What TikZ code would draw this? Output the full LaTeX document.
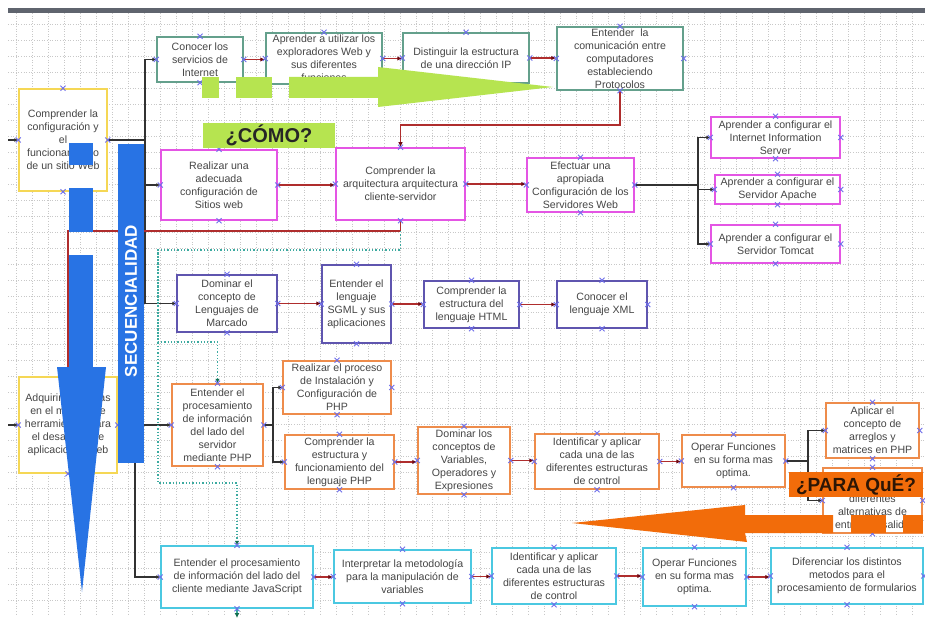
\documentclass[tikz,border=0pt]{standalone}
\usepackage{fontspec}
\setmainfont{Liberation Sans}
\usetikzlibrary{arrows.meta}
\definecolor{txt}{RGB}{70,70,70}
\definecolor{cTeal}{RGB}{100,160,140}
\definecolor{cYel}{RGB}{245,215,85}
\definecolor{cMag}{RGB}{228,85,228}
\definecolor{cInd}{RGB}{95,85,175}
\definecolor{cOrg}{RGB}{238,140,75}
\definecolor{cCy}{RGB}{75,200,225}
\definecolor{cMark}{RGB}{110,110,235}
\definecolor{cRed}{RGB}{175,45,45}
\definecolor{cRedD}{RGB}{110,10,20}
\definecolor{cDark}{RGB}{50,50,50}
\definecolor{cTealL}{RGB}{60,170,160}
\definecolor{cTealD}{RGB}{20,110,80}
\definecolor{cGreen}{RGB}{182,228,80}
\definecolor{cBlue}{RGB}{40,115,228}
\definecolor{cOrange}{RGB}{242,108,10}
\definecolor{cParaTxt}{RGB}{45,22,5}
\definecolor{gridc}{RGB}{200,200,200}
\definecolor{topbar}{RGB}{95,100,110}
\tikzset{
  bx/.style={draw, line width=1.5pt, fill=white, align=center, inner sep=0pt, text=txt, font=\fontsize{10.6}{13}\selectfont},
  tl/.style={bx, draw=cTeal}, yl/.style={bx, draw=cYel}, mg/.style={bx, draw=cMag},
  ind/.style={bx, draw=cInd}, org/.style={bx, draw=cOrg}, cy/.style={bx, draw=cCy},
  wh/.style 2 args={minimum width=#1pt, minimum height=#2pt},
  xmk/.style={draw=cMark, line width=0.9pt},
  rd/.style={draw=cRed, line width=1.4pt, -{Latex[length=5pt,width=4.5pt,color=cRedD]}},
  dk/.style={draw=cDark, line width=1.5pt},
  dka/.style={dk, -{Latex[length=4pt,width=4pt]}},
  tdot/.style={draw=cTealL, line width=1.3pt, dotted, -{Latex[length=4.5pt,width=4.5pt,color=cTealD]}},
  gridline/.style={draw=gridc, line width=0.6pt, dotted},
  plaintxt/.style={align=center, inner sep=0pt, text=txt, font=\fontsize{10.6}{13}\selectfont},
}
\begin{document}
\begin{tikzpicture}[x=1pt,y=-1pt]
\useasboundingbox (0,0) rectangle (925,620);
\fill[white] (0,0) rectangle (925,620);
\foreach \x in {16,32,...,912} \draw[gridline] (\x,13) -- (\x,614);
\foreach \y in {24,40,...,608} \draw[gridline] (8,\y) -- (925,\y);
\fill[topbar] (8,8) rectangle (925,13);

% ---------- boxes ----------
\node[tl, wh={86}{45}] (conocer) at (200,59.5) {Conocer los\\servicios de\\Internet};
\node[tl, wh={116}{51}] (aprender) at (324,58.5) {Aprender a utilizar los\\exploradores Web y\\sus diferentes\\funciones};
\node[tl, wh={126}{50}] (disting) at (466,58) {Distinguir la estructura\\de una dirección IP};
\node[tl, wh={126}{63}] (prot) at (620,58.5) {Entender\ \ la\\comunicación entre\\computadores\\estableciendo\\Protocolos};
\node[yl, wh={88}{102}] (comp) at (63,140) {Comprender la\\configuración y\\el\\funcionamiento\\de un sitio Web};
\node[mg, wh={116}{70}] (realiz) at (219,185) {Realizar una\\adecuada\\configuración de\\Sitios web};
\node[mg, wh={129}{72}] (arq) at (400.5,184) {Comprender la\\arquitectura arquitectura\\cliente-servidor};
\node[mg, wh={107}{54}] (efect) at (580.5,185) {Efectuar una\\apropiada\\Configuración de los\\Servidores Web};
\node[mg, wh={129}{41}] (iis) at (775.5,137.5) {Aprender a configurar el\\Internet Information\\Server};
\node[mg, wh={125}{29}] (apache) at (777.5,189.5) {Aprender a configurar el\\Servidor Apache};
\node[mg, wh={129}{38}] (tomcat) at (775.5,244) {Aprender a configurar el\\Servidor Tomcat};
\node[ind, wh={100}{57}] (dominar) at (227,303.5) {Dominar el\\concepto de\\Lenguajes de\\Marcado};
\node[ind, wh={69}{78}] (sgml) at (356.5,304) {Entender el\\lenguaje\\SGML y sus\\aplicaciones};
\node[ind, wh={95}{47}] (html) at (471.5,304.5) {Comprender la\\estructura del\\lenguaje HTML};
\node[ind, wh={90}{47}] (xml) at (602,304.5) {Conocer el\\lenguaje XML};
\node[yl, wh={98}{96}] (adq) at (68,425) {Adquirir destrezas\\en el manejo de\\herramientas para\\el desarrollo de\\aplicaciones web};
\node[org, wh={91}{82}] (php) at (217.5,425) {Entender el\\procesamiento\\de información\\del lado del\\servidor\\mediante PHP};
\node[org, wh={108}{53}] (inst) at (337,387.5) {Realizar el proceso\\de Instalación y\\Configuración de\\PHP};
\node[org, wh={109}{54}] (estr) at (339.5,462) {Comprender la\\estructura y\\funcionamiento del\\lenguaje PHP};
\node[org, wh={92}{67}] (varb) at (464,460.5) {Dominar los\\conceptos de\\Variables,\\Operadores y\\Expresiones};
\node[org, wh={124}{55}] (ident) at (597,461.5) {Identificar y aplicar\\cada una de las\\diferentes estructuras\\de control};
\node[org, wh={103}{52}] (operar) at (733.5,461) {Operar Funciones\\en su forma mas\\optima.};
\node[org, wh={93}{55}] (arreg) at (872.5,430.5) {Aplicar el\\concepto de\\arreglos y\\matrices en PHP};
\node[org, wh={99}{65}] (altern) at (872.5,500.5) {};
\node[plaintxt] (alternT) at (872.5,513) {diferentes\\alternativas de\\entrada y salida};
\node[cy, wh={152}{62}] (js) at (237,577) {Entender el procesamiento\\de información del lado del\\cliente mediante JavaScript};
\node[cy, wh={137}{53}] (interp) at (402.5,576.5) {Interpretar la metodología\\para la manipulación de\\variables};
\node[cy, wh={124}{56}] (identb) at (554,576) {Identificar y aplicar\\cada una de las\\diferentes estructuras\\de control};
\node[cy, wh={103}{58}] (operarb) at (694.5,577) {Operar Funciones\\en su forma mas\\optima.};
\node[cy, wh={152}{56}] (difer) at (847,576) {Diferenciar los distintos\\metodos para el\\procesamiento de formularios};

% ---------- connectors ----------
\coordinate (inA) at (8,140);
\coordinate (inB) at (8,425);
\coordinate (j1) at (145,140);
\coordinate (j2) at (135,425);
\coordinate (j3) at (273,425);
\coordinate (j4) at (698,185);
\coordinate (j5) at (808,461);
\coordinate (t1) at (158,250);
\coordinate (t2) at (158,342);
\coordinate (t3) at (158,483);
\coordinate (outJ) at (237,618);

\draw[dka] (inA) -- (comp.west);
\draw[dka] (inB) -- (adq.west);
\draw[dk] (comp.east) -- (j1);
\draw[dka] (j1) |- (conocer.west);
\draw[dka] (j1) |- (realiz.west);
\draw[dka] (j1) |- (dominar.west);
\draw[dka] (adq.east) -- (php.west);
\draw[dka] (j2) |- (js.west);
\draw[dk] (php.east) -- (j3);
\draw[dka] (j3) |- (inst.west);
\draw[dka] (j3) |- (estr.west);
\draw[dk] (efect.east) -- (j4);
\draw[dka] (j4) |- (iis.west);
\draw[dka] (j4) |- (apache.west);
\draw[dka] (j4) |- (tomcat.west);
\draw[dk] (operar.east) -- (j5);
\draw[dka] (j5) |- (arreg.west);
\draw[dka] (j5) |- (altern.west);

\draw[rd] (conocer.east) -- (conocer.east -| aprender.west);
\draw[rd] (aprender.east) -- (aprender.east -| disting.west);
\draw[rd] (disting.east) -- (disting.east -| prot.west);
\draw[rd] (prot.south) -- (prot.south |- 0,125) -| (arq.north);
\draw[rd] (realiz.east) -- (realiz.east -| arq.west);
\draw[rd] (arq.east) -- (arq.east -| efect.west);
\draw[rd] (arq.south) -- (arq.south |- 0,231) -| (adq.north);
\draw[rd] (dominar.east) -- (dominar.east -| sgml.west);
\draw[rd] (sgml.east) -- (sgml.east -| html.west);
\draw[rd] (html.east) -- (html.east -| xml.west);
\draw[rd] (estr.east) -- (estr.east -| varb.west);
\draw[rd] (varb.east) -- (varb.east -| ident.west);
\draw[rd] (ident.east) -- (ident.east -| operar.west);
\draw[rd] (js.east) -- (js.east -| interp.west);
\draw[rd] (interp.east) -- (interp.east -| identb.west);
\draw[rd] (identb.east) -- (identb.east -| operarb.west);
\draw[rd] (operarb.east) -- (operarb.east -| difer.west);

\draw[tdot] (arq.south |- 0,231) -- (arq.south |- t1) -- (t1) -- (t2) -| (php.north);
\draw[tdot] (t1) -- (t3) -| (js.north);
\draw[draw=cTealL, line width=1.3pt, -{Latex[length=5pt,width=5pt,color=cTealD]}] (js.south) -- (outJ);

% ---------- connection markers ----------
\foreach \n in {conocer,aprender,disting,prot,comp,realiz,arq,efect,iis,apache,tomcat,dominar,sgml,html,xml,adq,php,inst,estr,varb,ident,operar,arreg,altern,js,interp,identb,operarb,difer}
  \foreach \a in {north,south,east,west}
    \draw[xmk] (\n.\a) ++(-2.5,-2.5) -- ++(5,5) ++(0,-5) -- ++(-5,5);

% ---------- overlay shapes ----------
\fill[cGreen] (202,77) rectangle (219,98);
\fill[cGreen] (236,77) rectangle (272,98);
\fill[cGreen] (289,77) -- (378,77) -- (378,67) -- (553,87) -- (378,107) -- (378,98) -- (289,98) -- cycle;
\node[fill=cGreen, minimum width=132pt, minimum height=25pt, inner sep=0pt, text=black!85, font=\bfseries\fontsize{20}{20}\selectfont] (como) at (269,135.5) {¿CÓMO?};

\node[fill=cBlue, minimum width=26pt, minimum height=319pt, inner sep=0pt] (secbar) at (131,303.5) {};
\node[rotate=90, inner sep=0pt, text=white, font=\bfseries\fontsize{17}{17}\selectfont] (sectxt) at (131,301) {SECUENCIALIDAD};

\fill[cBlue] (69,143) rectangle (93,165);
\fill[cBlue] (69,188) rectangle (93,232);
\fill[cBlue] (69,255) rectangle (93,368);
\fill[cBlue] (57,367) -- (106,367) -- (82,592) -- cycle;

\fill[cOrange] (572,523) -- (745,505) -- (745,515) -- (833,515) -- (833,533) -- (745,533) -- (747,542) -- cycle;
\fill[cOrange] (851,515) rectangle (886,533);
\fill[cOrange] (903,515) rectangle (923,533);
\node[fill=cOrange, minimum width=134pt, minimum height=25pt, inner sep=0pt, text=cParaTxt, font=\bfseries\fontsize{19}{19}\selectfont] (paraque) at (856,484.5) {¿PARA QuÉ?};
\end{tikzpicture}
\end{document}
